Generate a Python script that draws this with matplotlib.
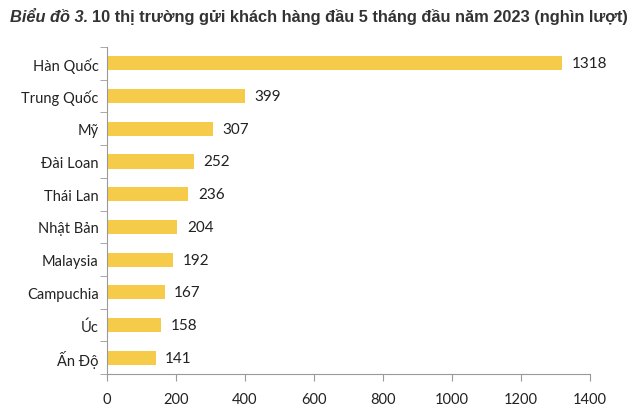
import matplotlib
matplotlib.use("Agg")
import matplotlib.pyplot as plt

countries = ["Hàn Quốc", "Trung Quốc", "Mỹ", "Đài Loan", "Thái Lan",
             "Nhật Bản", "Malaysia", "Campuchia", "Úc", "Ấn Độ"]
visitors = [1318, 399, 307, 252, 236, 204, 192, 167, 158, 141]
xticks = [0, 200, 400, 600, 800, 1000, 1200, 1400]

plt.rcParams['font.family'] = ['Lato', 'DejaVu Sans']

fig = plt.figure(figsize=(6.4, 4.14), dpi=100)
ax = fig.add_axes([0.167, 0.094, 0.755, 0.79])

ypos = list(range(len(countries)))[::-1]
ax.barh(ypos, visitors, height=0.43, color='#F6CB4A')
for y, v in zip(ypos, visitors):
    ax.text(v + 28, y, str(v), va='center', ha='left', fontsize=11, color='#222222')

ax.set_yticks(ypos)
ax.set_yticklabels(countries, fontsize=10.5, color='#222222')
ax.set_ylim(-0.5, len(countries) - 0.5)
ax.set_yticks([y + 0.5 for y in range(-1, len(countries))], minor=True)
ax.tick_params(axis='y', which='major', length=0, pad=6)
ax.tick_params(axis='y', which='minor', length=5, color='#999999', direction='out')

ax.set_xlim(0, 1400)
ax.set_xticks(xticks)
ax.set_xticklabels([str(t) for t in xticks], fontsize=10.5, color='#222222')
ax.tick_params(axis='x', length=5, color='#999999', pad=8)

for s in ['top', 'right']:
    ax.spines[s].set_visible(False)
ax.spines['left'].set_color('#999999')
ax.spines['bottom'].set_color('#999999')

t1 = fig.text(0.016, 0.958, "Biểu đồ 3.", fontsize=11.8, fontweight='bold',
              fontstyle='italic', family='Liberation Sans', color='#333333', va='center')
fig.canvas.draw()
bb = t1.get_window_extent()
x2 = (bb.x1 + 4) / fig.bbox.width
fig.text(x2, 0.958, "10 thị trường gửi khách hàng đầu 5 tháng đầu năm 2023 (nghìn lượt)",
         fontsize=11.8, fontweight='bold', family='Liberation Sans', color='#333333', va='center')

fig.savefig("out.png", dpi=100)
